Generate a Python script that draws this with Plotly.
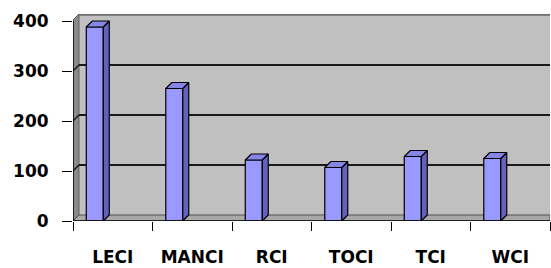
import numpy as np
import plotly.graph_objects as go

categories = ["LECI", "MANCI", "RCI", "TOCI", "TCI", "WCI"]
values = [388, 265, 122, 107, 129, 125]
y_ticks = [0, 100, 200, 300, 400]

# 3D look parameters (data units)
DX = 0.075      # depth shift in category units
DY = 12         # depth shift in value units
BAR_OFF = -0.333
BAR_W = 0.214
YMAX = 414
XMIN, XMAX = -0.5, len(categories) - 0.5

xs = np.arange(len(categories))

fig = go.Figure()

# front faces
fig.add_trace(go.Bar(
    x=xs, y=values, width=BAR_W, offset=BAR_OFF,
    marker=dict(color="#9999ff", line=dict(color="black", width=1.2)),
    hoverinfo="skip", showlegend=False))

# side and top faces built from the data
for xi, v in zip(xs, values):
    l = xi + BAR_OFF
    r = l + BAR_W
    fig.add_trace(go.Scatter(
        x=[r, r + DX, r + DX, r, r], y=[0, DY, v + DY, v, 0],
        fill="toself", fillcolor="#6262bd", mode="lines",
        line=dict(color="black", width=1.2), hoverinfo="skip", showlegend=False))
    fig.add_trace(go.Scatter(
        x=[l, l + DX, r + DX, r, l], y=[v, v + DY, v + DY, v, v],
        fill="toself", fillcolor="#8585e6", mode="lines",
        line=dict(color="black", width=1.2), hoverinfo="skip", showlegend=False))

shapes = []
# back wall
shapes.append(dict(type="rect", xref="x", yref="y", x0=XMIN + DX, x1=XMAX, y0=DY, y1=YMAX,
                   fillcolor="#c0c0c0", line=dict(width=0), layer="below"))
# left wall
shapes.append(dict(type="path", xref="x", yref="y",
                   path=f"M {XMIN},0 L {XMIN},{YMAX-DY} L {XMIN+DX},{YMAX} L {XMIN+DX},{DY} Z",
                   fillcolor="#8a8a8a", line=dict(color="#5a5a5a", width=1), layer="below"))
# floor
shapes.append(dict(type="path", xref="x", yref="y",
                   path=f"M {XMIN},0 L {XMIN+DX},{DY} L {XMAX},{DY} L {XMAX},0 Z",
                   fillcolor="#a8a8a8", line=dict(color="#505050", width=1), layer="below"))
# top border of back wall
shapes.append(dict(type="line", xref="x", yref="y", x0=XMIN + DX, x1=XMAX, y0=YMAX - 1, y1=YMAX - 1,
                   line=dict(color="#6e6e6e", width=2.5), layer="below"))
# gridlines on back and side walls
for t in y_ticks[1:4]:
    shapes.append(dict(type="line", xref="x", yref="y", x0=XMIN + DX, x1=XMAX, y0=t + DY, y1=t + DY,
                       line=dict(color="#1a1a1a", width=2.2), layer="below"))
    shapes.append(dict(type="line", xref="x", yref="y", x0=XMIN, x1=XMIN + DX, y0=t, y1=t + DY,
                       line=dict(color="#1a1a1a", width=1.5), layer="below"))
# axis lines
shapes.append(dict(type="line", xref="x", yref="y", x0=XMIN, x1=XMIN, y0=0, y1=y_ticks[-1],
                   line=dict(color="black", width=1.5)))
shapes.append(dict(type="line", xref="x", yref="y", x0=XMIN, x1=XMAX, y0=0, y1=0,
                   line=dict(color="black", width=1.5)))

font_bold = dict(family="DejaVu Sans", size=17, color="black", weight="bold")

fig.update_layout(
    width=551, height=268,
    margin=dict(l=73, r=1, t=14, b=47),
    paper_bgcolor="white", plot_bgcolor="white",
    shapes=shapes,
    showlegend=False,
    xaxis=dict(range=[XMIN, XMAX], tickvals=list(xs), ticktext=categories,
               ticks="", showgrid=False, zeroline=False, showline=False, automargin=False,
               tickfont=dict(family="DejaVu Sans", size=17, color="black", weight="bold"),
               ticklabelstandoff=24,
               minor=dict(tickvals=list(np.arange(len(categories) + 1) - 0.5), ticks="outside",
                          ticklen=9, tickwidth=1.2, tickcolor="black", showgrid=False)),
    yaxis=dict(range=[0, YMAX], tickvals=y_ticks, ticks="outside", ticklen=10,
               tickwidth=1.2, tickcolor="black", showgrid=False, zeroline=False,
               showline=False, automargin=False, tickfont=font_bold, ticklabelstandoff=10),
)

fig.write_html("out.html", config={"displayModeBar": False},
               post_script="document.body.style.margin='0';document.body.style.padding='0';")
